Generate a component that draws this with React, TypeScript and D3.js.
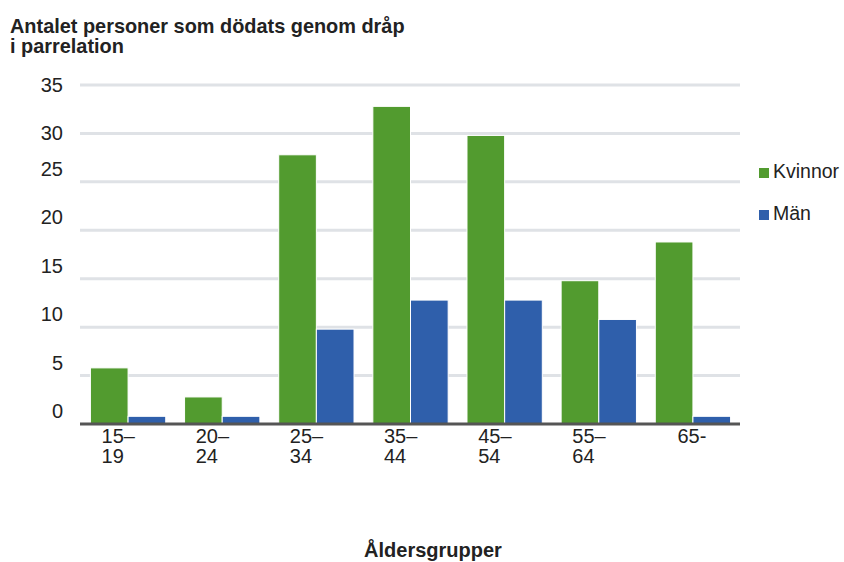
import React from "react";
import * as d3 from "d3";

const categories = ["15–19", "20–24", "25–34", "35–44", "45–54", "55–64", "65-"];
const kvinnor = [6, 3, 28, 33, 30, 15, 19];
const man = [1, 1, 10, 13, 13, 11, 1];
const seriesNames = ["Kvinnor", "Män"];
const yTicks = [0, 5, 10, 15, 20, 25, 30, 35];
const titleLines = ["Antalet personer som dödats genom dråp", "i parrelation"];
const xTitle = "Åldersgrupper";

const W = 844;
const H = 562;
const colors = ["#529b2f", "#2f5fab"];
const FONT = "'Liberation Sans', Arial, sans-serif";

export default function App() {
  const x = d3.scaleBand<string>().domain(categories).range([81, 740]).paddingInner(0.2).paddingOuter(0.1);
  const xs = d3.scaleBand<string>().domain(seriesNames).range([0, x.bandwidth()]);
  const y = d3.scaleLinear().domain([0, 35]).range([424, 85]);
  const series = [kvinnor, man];

  return (
    <svg width={W} height={H} style={{ position: "absolute", left: 0, top: 0, display: "block" }} fontFamily={FONT}>
      <rect width={W} height={H} fill="#fff" />
      {titleLines.map((t, i) => (
        <text key={t} x={10} y={33 + i * 20} fontSize={19.9} fontWeight="bold" fill="#222">
          {t}
        </text>
      ))}
      {yTicks.map((v) =>
        v === 0 ? null : (
          <line key={"g" + v} x1={80} x2={740} y1={y(v)} y2={y(v)} stroke="#dfe2e6" strokeWidth={3} />
        )
      )}
      {yTicks.map((v) => (
        <text
          key={"t" + v}
          x={63}
          y={y(v) + (v >= 30 ? 0 : -13)}
          dy="0.35em"
          textAnchor="end"
          fontSize={20}
          fill="#222"
        >
          {v}
        </text>
      ))}
      {categories.map((c, ci) =>
        series.map((s, si) => {
          const bx = (x(c) as number) + (xs(seriesNames[si]) as number);
          const top = y(s[ci]) + 2;
          return (
            <rect
              key={c + si}
              x={bx}
              y={top}
              width={xs.bandwidth()}
              height={y(0) - top}
              fill={colors[si]}
              stroke="#fff"
              strokeWidth={1}
            />
          );
        })
      )}
      <line x1={80} x2={740} y1={y(0)} y2={y(0)} stroke="#555" strokeWidth={3} />
      {categories.map((c) => {
        const cx = (x(c) as number) + x.bandwidth() / 2;
        const parts = c.split("–");
        if (parts.length === 1) {
          return (
            <text key={"l" + c} x={cx - 1} y={443} textAnchor="middle" fontSize={20} fill="#222">
              {c}
            </text>
          );
        }
        return (
          <text key={"l" + c} x={cx - 26.5} y={443} fontSize={20} fill="#222">
            <tspan x={cx - 26.5}>{parts[0] + "–"}</tspan>
            <tspan x={cx - 26.5} dy={20}>
              {parts[1]}
            </tspan>
          </text>
        );
      })}
      {seriesNames.map((n, i) => (
        <g key={n} transform={`translate(759, ${168 + i * 42})`}>
          <rect width={10} height={10} fill={colors[i]} />
          <text x={14} y={10} fontSize={19.5} fill="#222">
            {n}
          </text>
        </g>
      ))}
      <text x={433} y={557} textAnchor="middle" fontSize={20} fontWeight="bold" fill="#222">
        {xTitle}
      </text>
    </svg>
  );
}
